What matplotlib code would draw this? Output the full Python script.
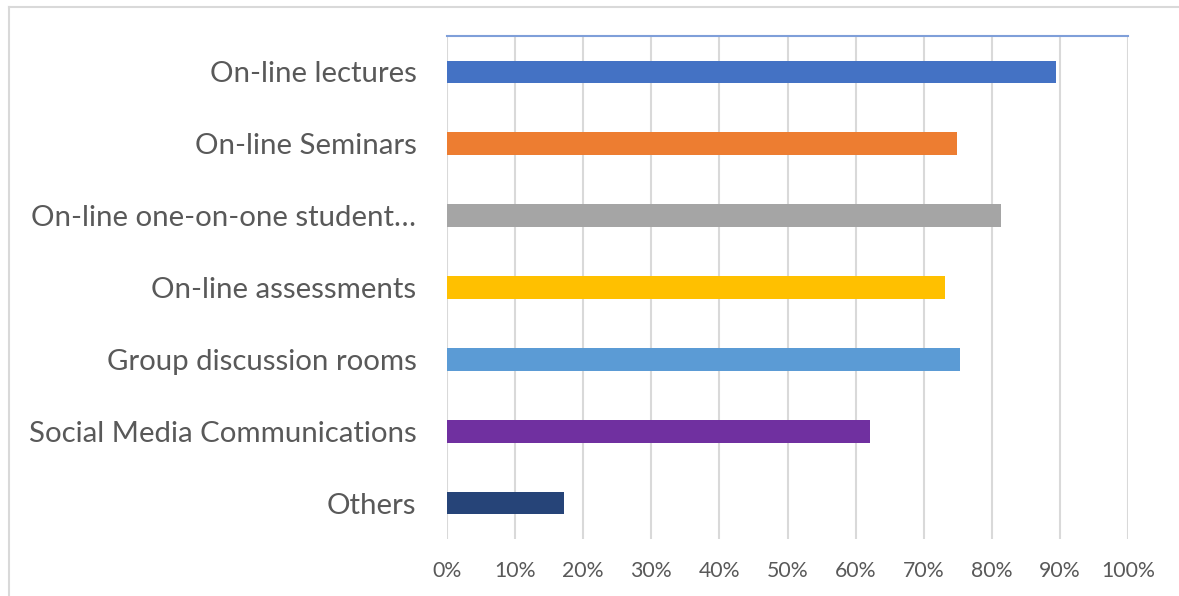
import matplotlib.pyplot as plt
from matplotlib.lines import Line2D

categories = ["On-line lectures", "On-line Seminars", "On-line one-on-one student\u2026",
              "On-line assessments", "Group discussion rooms",
              "Social Media Communications", "Others"]
values = [89.4, 74.9, 81.4, 73.1, 75.3, 62.1, 17.2]
colors = ["#4472C4", "#ED7D31", "#A5A5A5", "#FFC000", "#5B9BD5", "#7030A0", "#264478"]
tick_labels = ["0%", "10%", "20%", "30%", "40%", "50%", "60%", "70%", "80%", "90%", "100%"]

plt.rcParams['font.family'] = ['Lato', 'DejaVu Sans']
text_color = "#595959"

fig = plt.figure(figsize=(11.79, 5.96), dpi=100)
ax = fig.add_axes([447 / 1179, 1 - 539 / 596, 681 / 1179, 503 / 596])

y = list(range(len(categories)))
ax.barh(y, values, height=0.316, color=colors, zorder=3)
ax.set_ylim(len(categories) - 0.5, -0.5)
ax.set_xlim(0, 100)

ax.set_xticks(range(0, 101, 10))
ax.set_xticklabels(tick_labels, fontsize=15.3, color=text_color)
ax.set_yticks(y)
ax.set_yticklabels(categories, fontsize=21.2, color=text_color)
ax.tick_params(axis='x', length=0, pad=16)
ax.tick_params(axis='y', length=0, pad=22)

ax.grid(axis='x', color="#D9D9D9", linewidth=1.5, zorder=0)
for s in ["left", "right", "bottom"]:
    ax.spines[s].set_visible(False)
ax.spines["top"].set_color("#7F9FD9")
ax.spines["top"].set_linewidth(1.5)

# outer chart border (cropped at right and bottom)
fig.add_artist(Line2D([8.5 / 1179, 8.5 / 1179], [0, 1 - 6.5 / 596], transform=fig.transFigure,
                      color="#D9D9D9", linewidth=1.5))
fig.add_artist(Line2D([8.5 / 1179, 1], [1 - 6.5 / 596, 1 - 6.5 / 596], transform=fig.transFigure,
                      color="#D9D9D9", linewidth=1.5))

fig.savefig("out.png", dpi=100)
